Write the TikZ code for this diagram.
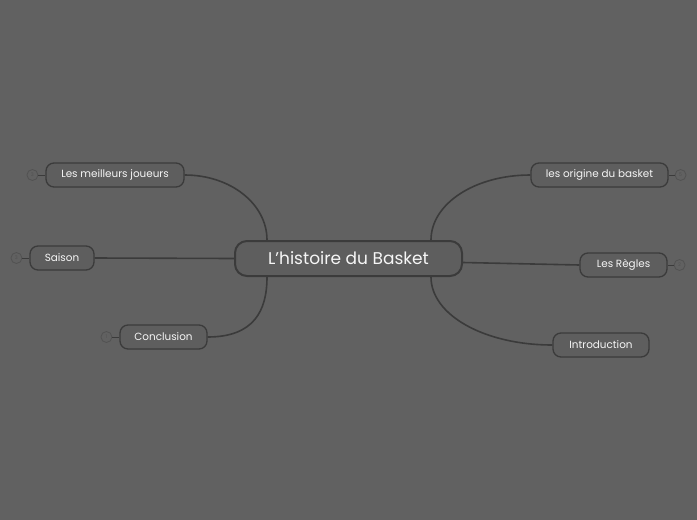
\documentclass[tikz,border=0pt]{standalone}
\usepackage{fontspec}
\setmainfont{Poppins}
\usepackage{xcolor}
\usepackage{tikz}
\usetikzlibrary{positioning,calc}
\definecolor{canvas}{HTML}{616161}
\definecolor{boxfill}{HTML}{5E5E5E}
\definecolor{edge}{HTML}{3B3B3B}
\definecolor{faint}{HTML}{525252}
\definecolor{label}{HTML}{F6F6F6}

\begin{document}
\begin{tikzpicture}[x=1pt,y=-1pt,
    topic/.style={draw=edge, line width=1.3pt, fill=boxfill, rounded corners=8pt,
      minimum height=24pt, inner xsep=10pt, text=label, font=\fontsize{10.4}{12}\selectfont},
    rootbox/.style={draw=edge, line width=2pt, fill=boxfill, rounded corners=12pt,
      minimum height=35pt, minimum width=227pt, text=label, font=\fontsize{17}{20}\selectfont},
    branch/.style={draw=edge, line width=1.6pt},
    fold/.style={circle, draw=faint, line width=0.8pt, minimum size=11pt, inner sep=0pt,
      text=faint, font=\fontsize{5}{6}\selectfont},
    foldline/.style={draw=edge, line width=1pt}]
  \fill[canvas] (0,0) rectangle (697,520);
  \useasboundingbox (0,0) rectangle (697,520);

  % central topic
  \node[rootbox] (root) at (348.5,258.5) {L'histoire du Basket};

  % left side
  \node[topic, minimum width=138pt] (joueurs) at (115,175) {Les meilleurs joueurs};
  \node[topic, minimum width=64pt] (saison) at (62,258) {Saison};
  \node[topic, minimum width=87pt] (concl) at (163.5,337) {Conclusion};

  % right side
  \node[topic, minimum width=137pt] (origine) at (599.5,175) {les origine du basket};
  \node[topic, minimum width=87pt] (regles) at (623.5,265) {Les Règles};
  \node[topic, minimum width=96pt] (intro) at (601,345) {Introduction};

  % collapsed markers
  \node[fold, left=7pt of joueurs] (fj) {3};
  \node[fold, left=7pt of saison] (fs) {3};
  \node[fold, left=7pt of concl] (fc) {1};
  \node[fold, right=6pt of origine] (fo) {5};
  \node[fold, right=6pt of regles] (fr) {2};
  \draw[foldline] (fj) -- (joueurs);
  \draw[foldline] (fs) -- (saison);
  \draw[foldline] (fc) -- (concl);
  \draw[foldline] (fo) -- (origine);
  \draw[foldline] (fr) -- (regles);

  % branches
  \coordinate (rnw) at ($(root.north west)+(33,0)$);
  \coordinate (rsw) at ($(root.south west)+(33,0)$);
  \coordinate (rne) at ($(root.north east)+(-32,0)$);
  \coordinate (rse) at ($(root.south east)+(-32,0)$);
  \draw[branch] (joueurs.east) .. controls +(46,0) and +(0,-36) .. (rnw);
  \draw[branch] (saison.east) -- (root.west);
  \draw[branch] (concl.east) .. controls +(46,0) and +(0,34) .. (rsw);
  \draw[branch] (origine.west) .. controls +(-56,0) and +(0,-36) .. (rne);
  \draw[branch] ($(root.east)+(0,4)$) -- (regles.west);
  \draw[branch] (intro.west) .. controls +(-68,0) and +(0,38) .. (rse);
\end{tikzpicture}
\end{document}
